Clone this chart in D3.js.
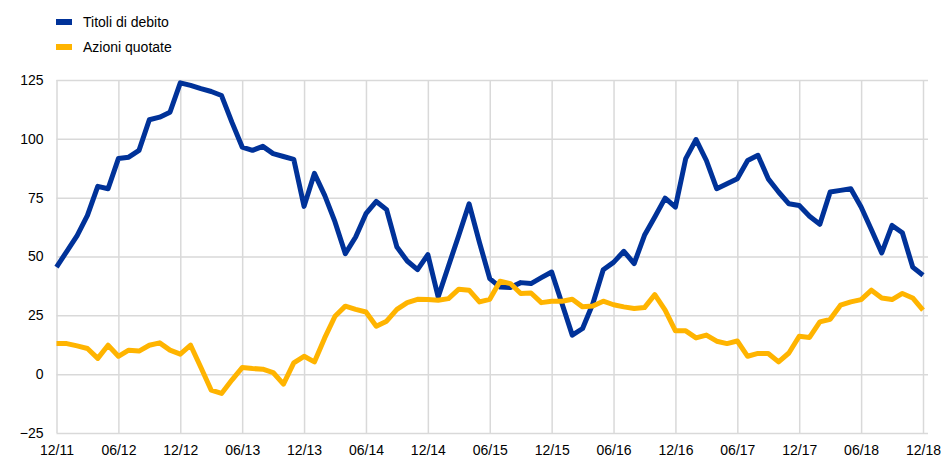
<!DOCTYPE html>
<html><head><meta charset="utf-8">
<script src="https://cdn.jsdelivr.net/npm/d3@7"></script>
<style>body{margin:0;background:#fff;}svg{display:block;font-family:"Liberation Sans",Arial,sans-serif;}</style>
</head><body><svg id="c" width="944" height="460"></svg>
<script>
const seriesNames = ["Titoli di debito", "Azioni quotate"];
const seriesColors = ["#003299", "#ffb400"];
const xTickLabels = ["12/11","06/12","12/12","06/13","12/13","06/14","12/14","06/15","12/15","06/16","12/16","06/17","12/17","06/18","12/18"];
const yTicks = [-25, 0, 25, 50, 75, 100, 125];
// monthly values, Dec 2011 .. Dec 2018
const titoli = [45.5,52.2,58.9,67.5,79.8,78.8,91.6,92.2,95.1,108.1,109.2,111.3,123.8,122.7,121.3,120.1,118.4,107.1,96.5,95.1,96.8,93.7,92.5,91.3,71.3,85.3,76,64.7,51.2,58.3,68.2,73.4,69.9,54,48.1,44.4,50.8,32.8,46,59,72.4,56,40.6,37,36.8,38.9,38.5,41,43.4,30,16.6,19.4,30,44.4,47.5,52.2,47,59,66.8,74.8,71,91.6,99.7,90.8,78.8,80.9,83,90.8,93,83,77.4,72.4,71.7,67.1,63.7,77.4,78.1,78.8,71,61.4,51.5,63.2,60.1,45.5,42];
const azioni = [13,13,12,10.9,6.7,12.3,7.6,10.2,9.8,12.3,13.3,10.2,8.5,12.3,2.8,-6.8,-8.2,-2.5,2.8,2.4,2.1,0.7,-4.2,4.8,7.6,5.2,15.4,24.6,28.9,27.5,26.4,20.4,22.5,27.5,30.4,31.8,31.7,31.4,32.1,36.1,35.7,30.7,31.8,39.5,38.5,34.3,34.5,30.4,31,31,31.8,28.6,29,31,29.5,28.6,27.9,28.3,33.8,27.2,18.4,18.4,15.4,16.6,14,13,14.1,7.6,8.8,8.8,5.2,9,16.1,15.6,22.2,23.3,29.3,30.7,31.7,35.7,32.4,31.7,34.3,32.4,27.2];
const series = [titoli, azioni];

const svg = d3.select("#c");
const mLeft = 56.5, mTop = 80, mBottom = 433, mRight = 928;
const x = d3.scaleLinear().domain([0, 84]).range([mLeft, 923]);
const y = d3.scaleLinear().domain([-25, 125]).range([mBottom, mTop]);

// horizontal grid + y labels
const yAxis = d3.axisLeft(y).tickValues(yTicks).tickSize(-(mRight - mLeft)).tickFormat(d3.format("d"));
const gy = svg.append("g").attr("transform", `translate(${mLeft},0)`).call(yAxis);
gy.select(".domain").remove();
gy.selectAll(".tick line").attr("stroke", "#d9d9d9").attr("stroke-width", 1.5);
gy.selectAll(".tick text").attr("x", -13).attr("font-size", 14).attr("fill", "#000").attr("font-family", '"Liberation Sans",Arial,sans-serif');

// vertical grid + x labels
const xTickVals = xTickLabels.map((d, i) => i * 6);
const xAxis = d3.axisBottom(x).tickValues(xTickVals).tickSize(-(mBottom - mTop)).tickFormat((d, i) => xTickLabels[i]);
const gx = svg.append("g").attr("transform", `translate(0,${mBottom})`).call(xAxis);
gx.select(".domain").remove();
gx.selectAll(".tick line").attr("stroke", "#d9d9d9").attr("stroke-width", 1.5);
gx.selectAll(".tick text").attr("y", 12).attr("font-size", 14).attr("fill", "#000").attr("font-family", '"Liberation Sans",Arial,sans-serif');

// lines
const line = d3.line().x((d, i) => x(i)).y(d => y(d));
series.forEach((s, k) => {
  svg.append("path").datum(s).attr("d", line)
    .attr("fill", "none").attr("stroke", seriesColors[k]).attr("stroke-width", 5)
    .attr("stroke-linejoin", "round").attr("stroke-linecap", "butt");
});

// legend
seriesNames.forEach((n, k) => {
  const ly = 22 + k * 25;
  svg.append("rect").attr("x", 56).attr("y", ly - 3).attr("width", 16).attr("height", 6).attr("fill", seriesColors[k]);
  svg.append("text").attr("x", 83).attr("y", ly + 5).attr("font-size", 14).attr("fill", "#000").text(n);
});
</script></body></html>
